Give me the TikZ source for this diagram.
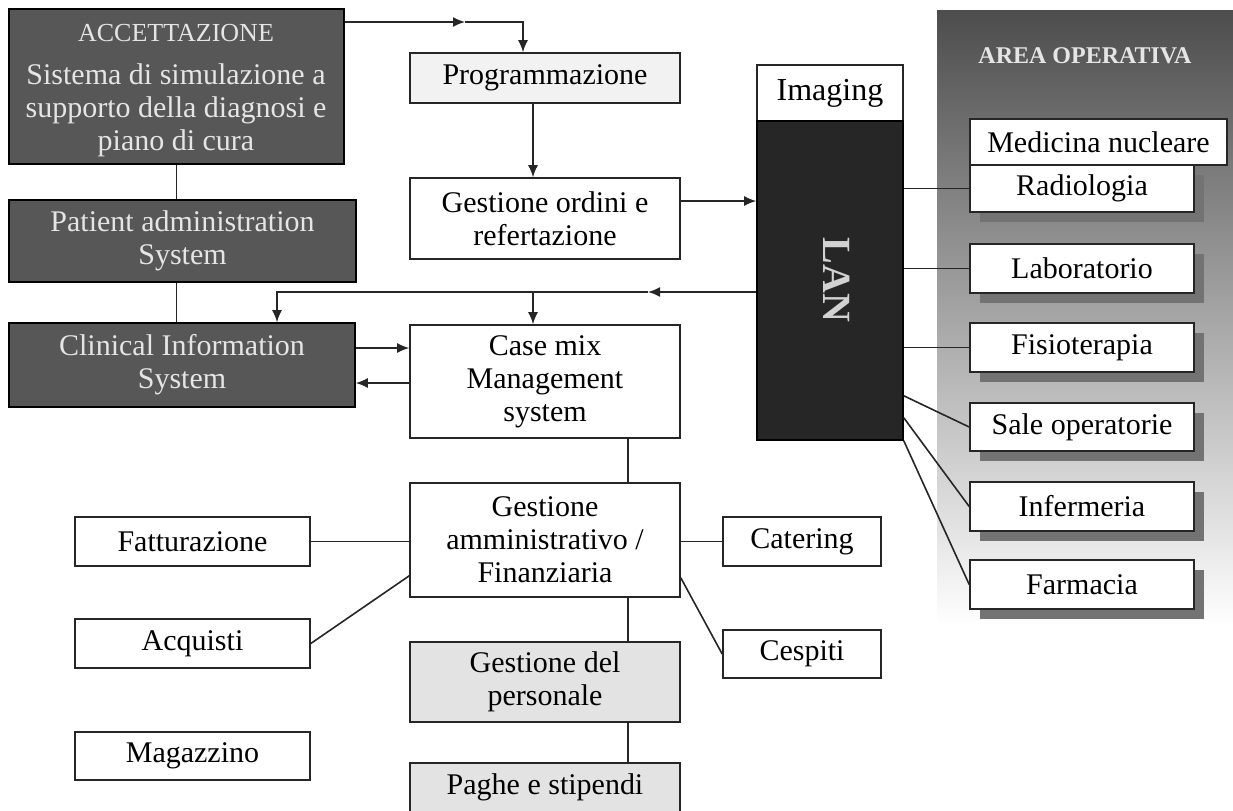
\documentclass[tikz,border=0pt]{standalone}
\usepackage{fontspec}
\setmainfont{Liberation Serif}
\usetikzlibrary{arrows.meta,calc}
\definecolor{darkfill}{gray}{0.34}
\definecolor{lanfill}{gray}{0.15}
\definecolor{lighttext}{gray}{0.9}
\definecolor{shadowc}{gray}{0.45}
\newcommand\drawbox[7]{%
  \node[#6, minimum width={(#4-#2)*0.5pt}, minimum height={(#5-#3)*0.5pt}] (#1) at ({(#2+#4)/2},{(#3+#5)/2}) {#7};}
\newcommand\opbox[6]{%
  \fill[shadowc] ({#2+10},{#3+10}) rectangle ({#4+10},{#5+10});
  \drawbox{#1}{#2}{#3}{#4}{#5}{whitebox}{#6}}
\begin{document}
\begin{tikzpicture}[x=0.5pt,y=-0.5pt,
  base/.style={draw=black!85, line width=0.8pt, inner sep=1pt, align=center, font=\fontsize{15}{16.5}\selectfont},
  whitebox/.style={base, fill=white},
  lightbox/.style={base, fill=gray!10},
  midbox/.style={base, fill=gray!22},
  darkbox/.style={base, fill=darkfill, text=lighttext, draw=black},
  lanbox/.style={base, fill=lanfill, draw=black},
  conn/.style={line width=0.8pt, draw=black!85},
  arr/.style={conn, -{Latex[length=6pt,width=5pt]}},
  lbl/.style={inner sep=0pt, align=center, text=lighttext, font=\fontsize{15}{16.5}\selectfont}
]
\useasboundingbox (0,0) rectangle (1233,810);
\clip (0,0) rectangle (1233,810);
\fill[white] (0,0) rectangle (1233,810);

% area operativa background
\shade[top color={rgb,1:red,0.30;green,0.30;blue,0.30}, middle color={rgb,1:red,0.68;green,0.68;blue,0.68}, bottom color=white] (937,10) rectangle (1233,625);
\node[lbl, font=\bfseries\fontsize{12}{14}\selectfont] (areaop) at (1085,56) {AREA OPERATIVA};

% left dark column
\drawbox{acc}{9}{9}{344}{164}{darkbox}{}
\node[lbl, font=\fontsize{13}{15}\selectfont] (acct) at (176,33) {ACCETTAZIONE};
\node[lbl] (accs) at (176,110) {Sistema di simulazione a\\supporto della diagnosi e\\piano di cura};
\drawbox{pas}{9}{200}{356}{282}{darkbox}{Patient administration\\System}
\drawbox{cis}{9}{323}{355}{407}{darkbox}{Clinical Information\\System}

% centre column
\drawbox{prog}{410}{53}{680}{103}{lightbox}{Programmazione}
\drawbox{gord}{410}{178}{680}{259}{whitebox}{Gestione ordini e\\refertazione}
\drawbox{cm}{410}{325}{680}{438}{whitebox}{Case mix\\Management\\system}
\drawbox{gam}{410}{483}{680}{597}{whitebox}{Gestione\\amministrativo /\\Finanziaria}
\drawbox{gper}{410}{642}{680}{722}{midbox}{Gestione del\\personale}
\drawbox{paghe}{410}{763}{680}{840}{midbox}{}
\node[lbl, text=black] (paghet) at (545,787) {Paghe e stipendi};

% left admin boxes
\drawbox{fatt}{75}{517}{310}{566}{whitebox}{Fatturazione}
\drawbox{acq}{75}{619}{310}{668}{whitebox}{Acquisti}
\drawbox{mag}{75}{732}{310}{780}{whitebox}{Magazzino}
\drawbox{cat}{723}{517}{881}{566}{whitebox}{Catering}
\drawbox{cesp}{723}{630}{881}{678}{whitebox}{Cespiti}

% LAN
\drawbox{img}{757}{65}{903}{121}{whitebox, font=\fontsize{16}{18}\selectfont}{Imaging}
\drawbox{lan}{757}{121}{903}{440}{lanbox}{}
\node[lbl, rotate=-90, font=\bfseries\fontsize{20}{22}\selectfont, text=gray!35] (lant) at (837,280) {LAN};

% area operativa boxes
\opbox{radio}{970}{165}{1194}{212}{Radiologia}
\drawbox{medn}{970}{119}{1227}{165}{whitebox}{Medicina nucleare}
\opbox{lab}{970}{244}{1194}{293}{Laboratorio}
\opbox{fisio}{970}{323}{1194}{372}{Fisioterapia}
\opbox{sale}{970}{403}{1194}{451}{Sale operatorie}
\opbox{inf}{970}{482}{1194}{531}{Infermeria}
\opbox{farm}{970}{560}{1194}{609}{Farmacia}

% connectors left column
\draw[conn] (acc.south) -- (acc.south |- pas.north);
\draw[conn] (pas.south -| acc.south) -- (cis.north -| acc.south);

% top arrow
\coordinate (tm) at (465,22);
\coordinate (tc) at (523,22);
\draw[arr] (tm -| acc.east) -- (tm);
\draw[arr] (tm) -- (tc) -- (tc |- prog.north);
\draw[arr] ([xshift=-6pt]prog.south) -- ([xshift=-6pt]gord.north);
\draw[arr] ([yshift=8.75pt]gord.east) -- ([yshift=8.75pt]gord.east -| lan.west);

% back from LAN
\coordinate (bm) at (648,292);
\coordinate (bl) at (277,292);
\coordinate (bb) at (533,292);
\draw[arr] (lan.west |- bm) -- (bm);
\draw[arr] (bm) -- (bl) -- (bl |- cis.north);
\draw[arr] (bb) -- (bb |- cm.north);

% CIS <-> case mix
\draw[arr] ([yshift=8.5pt]cis.east) -- ([yshift=8.5pt]cis.east -| cm.west);
\draw[arr] ([yshift=-9pt]cis.east -| cm.west) -- ([yshift=-9pt]cis.east);

% admin chain
\draw[conn] ([xshift=41.5pt]cm.south) -- ([xshift=41.5pt]gam.north);
\draw[conn] ([xshift=41.5pt]gam.south) -- ([xshift=41.5pt]gper.north);
\draw[conn] ([xshift=41.5pt]gper.south) -- ([xshift=41.5pt]paghe.north);
\draw[conn] (fatt.east) -- (fatt.east -| gam.west);
\draw[conn] (cat.west) -- (cat.west -| gam.east);
\draw[conn] (acq.east) -- ([yshift=11pt]gam.south west);
\draw[conn] (cesp.west) -- ([yshift=10pt]gam.south east);

% LAN to area operativa
\draw[conn] (lan.east |- radio.west) -- (radio.west);
\draw[conn] (lan.east |- lab.west) -- (lab.west);
\draw[conn] (lan.east |- fisio.west) -- (fisio.west);
\draw[conn] ([yshift=22.5pt]lan.south east) -- (sale.west);
\draw[conn] ([yshift=11.5pt]lan.south east) -- (inf.west);
\draw[conn] (lan.south east) -- (farm.west);
\end{tikzpicture}
\end{document}
